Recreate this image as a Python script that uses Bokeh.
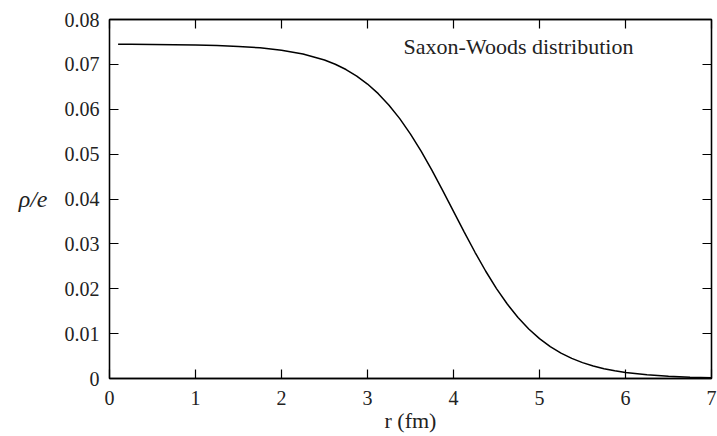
from bokeh.plotting import figure
from bokeh.models import FixedTicker, LinearAxis, Label, Range1d
from bokeh.embed import file_html
from bokeh.resources import INLINE

# radius (fm) and charge density rho/e
r_fm = [0.1, 0.25, 0.5, 0.75, 1.0, 1.25, 1.5, 1.75, 2.0, 2.25, 2.5, 2.625, 2.75,
        2.875, 3.0, 3.125, 3.25, 3.375, 3.5, 3.625, 3.75, 3.875, 4.0, 4.125,
        4.25, 4.375, 4.5, 4.625, 4.75, 4.875, 5.0, 5.125, 5.25, 5.375, 5.5,
        5.625, 5.75, 5.875, 6.0, 6.25, 6.5, 6.75, 7.0]
rho_e = [0.07447, 0.07446, 0.07443, 0.07439, 0.07432, 0.07420, 0.07400, 0.07368,
         0.07316, 0.07232, 0.07097, 0.07003, 0.06885, 0.06740, 0.06562, 0.06347,
         0.06091, 0.05791, 0.05446, 0.05060, 0.04637, 0.04188, 0.03725, 0.03262,
         0.02813, 0.02390, 0.02004, 0.01659, 0.01359, 0.01103, 0.00888, 0.00710,
         0.00565, 0.00448, 0.00353, 0.00278, 0.00218, 0.00171, 0.00134, 0.00082,
         0.00050, 0.00030, 0.00018]

x_ticks = [0, 1, 2, 3, 4, 5, 6, 7]
x_tick_labels = ["0", "1", "2", "3", "4", "5", "6", "7"]
y_ticks = [0.0, 0.01, 0.02, 0.03, 0.04, 0.05, 0.06, 0.07, 0.08]
y_tick_labels = ["0", "0.01", "0.02", "0.03", "0.04", "0.05", "0.06", "0.07", "0.08"]

title_text = "Saxon-Woods distribution"
x_label = "r (fm)"
y_label = "ρ/e"

FONT = "Liberation Serif"
TXT = "#222222"

p = figure(width=717, height=436, output_backend="svg", toolbar_location=None,
           x_range=Range1d(0, 7), y_range=Range1d(0, 0.08),
           x_axis_location=None, y_axis_location=None,
           min_border_left=109, min_border_right=6, min_border_top=19,
           min_border_bottom=58)
p.background_fill_color = "white"
p.border_fill_color = "white"
p.outline_line_color = "black"
p.outline_line_width = 1.3
p.xgrid.visible = False
p.ygrid.visible = False


def style(ax, labels=True):
    ax.axis_line_color = "black"
    ax.axis_line_width = 1.3
    ax.major_tick_line_color = "black"
    ax.major_tick_line_width = 1.2
    ax.major_tick_in = 9
    ax.major_tick_out = 0
    ax.minor_tick_line_color = None
    ax.major_label_text_font = FONT
    ax.major_label_text_font_size = "20px" if labels else "1px"
    ax.major_label_text_color = TXT if labels else None
    ax.axis_label_text_font = FONT
    ax.axis_label_text_font_size = "22px"
    ax.axis_label_text_color = TXT
    ax.axis_label_text_font_style = "normal"


xb = LinearAxis(ticker=FixedTicker(ticks=x_ticks),
                major_label_overrides={t: l for t, l in zip(x_ticks, x_tick_labels)})
style(xb)
xb.major_label_standoff = 12
xb.axis_label = x_label
xb.axis_label_standoff = 0
p.add_layout(xb, "below")

yl = LinearAxis(ticker=FixedTicker(ticks=y_ticks),
                major_label_overrides={t: l for t, l in zip(y_ticks, y_tick_labels)})
style(yl)
yl.major_label_standoff = 10
yl.axis_label = y_label
yl.axis_label_orientation = "horizontal"
yl.axis_label_text_font_style = "italic"
yl.axis_label_text_font_size = "24px"
yl.axis_label_standoff = 14
p.add_layout(yl, "left")

xt = LinearAxis(ticker=FixedTicker(ticks=x_ticks))
style(xt, labels=False)
xt.major_label_standoff = 0
p.add_layout(xt, "above")

yr = LinearAxis(ticker=FixedTicker(ticks=y_ticks))
style(yr, labels=False)
yr.major_label_standoff = 0
p.add_layout(yr, "right")

p.line(r_fm, rho_e, line_color="black", line_width=1.5)

lab = Label(x=3.42, y=0.0739, text=title_text, text_font=FONT,
            text_font_size="22px", text_color=TXT, text_baseline="alphabetic")
p.add_layout(lab)

open("out.html", "w").write(file_html(p, INLINE))
